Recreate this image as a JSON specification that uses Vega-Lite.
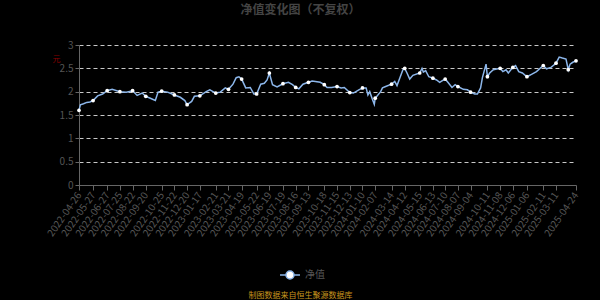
{
  "$schema": "https://vega.github.io/schema/vega-lite/v6.json",
  "autosize": "none",
  "width": 497,
  "height": 140,
  "padding": {"left": 79, "top": 45, "right": 24, "bottom": 115},
  "background": "#000000",
  "config": {
    "font": "Noto Sans CJK SC",
    "view": {"stroke": null},
    "axis": {"labelColor": "#555555", "labelFontSize": 10, "domainColor": "#666666", "tickColor": "#666666"}
  },
  "title": {
    "text": "净值变化图（不复权）",
    "anchor": "middle",
    "frame": "group",
    "dx": -27,
    "offset": 23,
    "color": "#444444",
    "fontSize": 12,
    "fontWeight": "bold"
  },
  "data": {
    "values": [
      {"date": "2022-04-26", "nav": 1.60},
      {"date": "2022-04-29", "nav": 1.72},
      {"date": "2022-05-06", "nav": 1.74},
      {"date": "2022-05-13", "nav": 1.77},
      {"date": "2022-05-20", "nav": 1.78},
      {"date": "2022-05-27", "nav": 1.81},
      {"date": "2022-06-06", "nav": 1.91},
      {"date": "2022-06-17", "nav": 1.95},
      {"date": "2022-06-27", "nav": 2.02},
      {"date": "2022-07-08", "nav": 2.05},
      {"date": "2022-07-25", "nav": 2.00},
      {"date": "2022-08-08", "nav": 1.99},
      {"date": "2022-08-22", "nav": 2.02},
      {"date": "2022-09-01", "nav": 1.92},
      {"date": "2022-09-12", "nav": 1.97},
      {"date": "2022-09-20", "nav": 1.90},
      {"date": "2022-09-30", "nav": 1.86},
      {"date": "2022-10-11", "nav": 1.81},
      {"date": "2022-10-17", "nav": 1.99},
      {"date": "2022-10-25", "nav": 2.01},
      {"date": "2022-11-07", "nav": 1.99},
      {"date": "2022-11-22", "nav": 1.93},
      {"date": "2022-12-05", "nav": 1.88},
      {"date": "2022-12-15", "nav": 1.81},
      {"date": "2022-12-20", "nav": 1.72},
      {"date": "2022-12-30", "nav": 1.79},
      {"date": "2023-01-05", "nav": 1.90},
      {"date": "2023-01-17", "nav": 1.91},
      {"date": "2023-01-31", "nav": 2.00},
      {"date": "2023-02-08", "nav": 2.04},
      {"date": "2023-02-21", "nav": 1.97},
      {"date": "2023-03-03", "nav": 1.99},
      {"date": "2023-03-14", "nav": 2.08},
      {"date": "2023-03-21", "nav": 2.05},
      {"date": "2023-03-31", "nav": 2.16},
      {"date": "2023-04-07", "nav": 2.30},
      {"date": "2023-04-13", "nav": 2.32},
      {"date": "2023-04-19", "nav": 2.27},
      {"date": "2023-04-28", "nav": 2.08},
      {"date": "2023-05-08", "nav": 2.09},
      {"date": "2023-05-16", "nav": 1.95},
      {"date": "2023-05-22", "nav": 1.95},
      {"date": "2023-05-31", "nav": 2.16},
      {"date": "2023-06-08", "nav": 2.18},
      {"date": "2023-06-14", "nav": 2.25},
      {"date": "2023-06-19", "nav": 2.40},
      {"date": "2023-06-26", "nav": 2.15},
      {"date": "2023-07-06", "nav": 2.10},
      {"date": "2023-07-19", "nav": 2.17},
      {"date": "2023-07-31", "nav": 2.20},
      {"date": "2023-08-09", "nav": 2.15},
      {"date": "2023-08-16", "nav": 2.09},
      {"date": "2023-08-23", "nav": 2.06},
      {"date": "2023-09-01", "nav": 2.16},
      {"date": "2023-09-13", "nav": 2.20},
      {"date": "2023-09-21", "nav": 2.23},
      {"date": "2023-10-09", "nav": 2.20},
      {"date": "2023-10-18", "nav": 2.15},
      {"date": "2023-10-24", "nav": 2.09},
      {"date": "2023-11-03", "nav": 2.09},
      {"date": "2023-11-15", "nav": 2.11},
      {"date": "2023-11-24", "nav": 2.08},
      {"date": "2023-12-01", "nav": 2.09},
      {"date": "2023-12-13", "nav": 1.98},
      {"date": "2023-12-21", "nav": 1.97},
      {"date": "2024-01-02", "nav": 2.04},
      {"date": "2024-01-10", "nav": 2.08},
      {"date": "2024-01-18", "nav": 2.08},
      {"date": "2024-01-22", "nav": 1.93},
      {"date": "2024-01-26", "nav": 2.00},
      {"date": "2024-01-31", "nav": 1.86},
      {"date": "2024-02-05", "nav": 1.73},
      {"date": "2024-02-07", "nav": 1.86},
      {"date": "2024-02-19", "nav": 2.00},
      {"date": "2024-02-23", "nav": 2.08},
      {"date": "2024-03-01", "nav": 2.11},
      {"date": "2024-03-14", "nav": 2.16},
      {"date": "2024-03-21", "nav": 2.22},
      {"date": "2024-03-26", "nav": 2.13},
      {"date": "2024-04-01", "nav": 2.29},
      {"date": "2024-04-08", "nav": 2.47},
      {"date": "2024-04-12", "nav": 2.50},
      {"date": "2024-04-17", "nav": 2.40},
      {"date": "2024-04-23", "nav": 2.27},
      {"date": "2024-04-30", "nav": 2.35},
      {"date": "2024-05-15", "nav": 2.40},
      {"date": "2024-05-20", "nav": 2.50},
      {"date": "2024-05-23", "nav": 2.42},
      {"date": "2024-05-28", "nav": 2.45},
      {"date": "2024-06-04", "nav": 2.32},
      {"date": "2024-06-13", "nav": 2.29},
      {"date": "2024-06-21", "nav": 2.25},
      {"date": "2024-06-28", "nav": 2.20},
      {"date": "2024-07-03", "nav": 2.23},
      {"date": "2024-07-10", "nav": 2.27},
      {"date": "2024-07-16", "nav": 2.20},
      {"date": "2024-07-25", "nav": 2.09},
      {"date": "2024-08-01", "nav": 2.15},
      {"date": "2024-08-07", "nav": 2.11},
      {"date": "2024-08-19", "nav": 2.05},
      {"date": "2024-08-28", "nav": 2.04},
      {"date": "2024-09-04", "nav": 1.99},
      {"date": "2024-09-13", "nav": 1.95},
      {"date": "2024-09-19", "nav": 1.95},
      {"date": "2024-09-26", "nav": 2.08},
      {"date": "2024-09-30", "nav": 2.30},
      {"date": "2024-10-08", "nav": 2.59},
      {"date": "2024-10-11", "nav": 2.32},
      {"date": "2024-10-16", "nav": 2.40},
      {"date": "2024-10-24", "nav": 2.47},
      {"date": "2024-11-08", "nav": 2.50},
      {"date": "2024-11-14", "nav": 2.43},
      {"date": "2024-11-21", "nav": 2.47},
      {"date": "2024-11-26", "nav": 2.40},
      {"date": "2024-12-06", "nav": 2.52},
      {"date": "2024-12-12", "nav": 2.56},
      {"date": "2024-12-19", "nav": 2.43},
      {"date": "2024-12-27", "nav": 2.40},
      {"date": "2025-01-06", "nav": 2.32},
      {"date": "2025-01-16", "nav": 2.37},
      {"date": "2025-01-27", "nav": 2.43},
      {"date": "2025-02-11", "nav": 2.56},
      {"date": "2025-02-18", "nav": 2.49},
      {"date": "2025-02-28", "nav": 2.52},
      {"date": "2025-03-11", "nav": 2.61},
      {"date": "2025-03-18", "nav": 2.74},
      {"date": "2025-03-25", "nav": 2.72},
      {"date": "2025-04-02", "nav": 2.70},
      {"date": "2025-04-07", "nav": 2.47},
      {"date": "2025-04-11", "nav": 2.59},
      {"date": "2025-04-17", "nav": 2.63},
      {"date": "2025-04-24", "nav": 2.66}
    ]
  },
  "encoding": {
    "x": {
      "field": "date",
      "type": "temporal",
      "timeUnit": "utcyearmonthdate",
      "scale": {"nice": false},
      "axis": {
        "title": "制图数据来自恒生聚源数据库",
        "titleColor": "#c8961e",
        "titleFontSize": 8,
        "titleFontWeight": "normal",
        "titleX": 221,
        "titleY": 110,
        "titleBaseline": "middle",
        "titleAnchor": null,
        "titleAlign": "center",
        "grid": false,
        "labelAngle": -55,
        "labelOverlap": false,
        "labelPadding": 3,
        "tickSize": 5,
        "format": "%Y-%m-%d",
        "values": [
          {"year": 2022, "month": 4, "date": 26, "utc": true},
          {"year": 2022, "month": 5, "date": 27, "utc": true},
          {"year": 2022, "month": 6, "date": 27, "utc": true},
          {"year": 2022, "month": 7, "date": 25, "utc": true},
          {"year": 2022, "month": 8, "date": 22, "utc": true},
          {"year": 2022, "month": 9, "date": 20, "utc": true},
          {"year": 2022, "month": 10, "date": 25, "utc": true},
          {"year": 2022, "month": 11, "date": 22, "utc": true},
          {"year": 2022, "month": 12, "date": 20, "utc": true},
          {"year": 2023, "month": 1, "date": 17, "utc": true},
          {"year": 2023, "month": 2, "date": 21, "utc": true},
          {"year": 2023, "month": 3, "date": 21, "utc": true},
          {"year": 2023, "month": 4, "date": 19, "utc": true},
          {"year": 2023, "month": 5, "date": 22, "utc": true},
          {"year": 2023, "month": 6, "date": 19, "utc": true},
          {"year": 2023, "month": 7, "date": 19, "utc": true},
          {"year": 2023, "month": 8, "date": 16, "utc": true},
          {"year": 2023, "month": 9, "date": 13, "utc": true},
          {"year": 2023, "month": 10, "date": 18, "utc": true},
          {"year": 2023, "month": 11, "date": 15, "utc": true},
          {"year": 2023, "month": 12, "date": 13, "utc": true},
          {"year": 2024, "month": 1, "date": 10, "utc": true},
          {"year": 2024, "month": 2, "date": 7, "utc": true},
          {"year": 2024, "month": 3, "date": 14, "utc": true},
          {"year": 2024, "month": 4, "date": 12, "utc": true},
          {"year": 2024, "month": 5, "date": 15, "utc": true},
          {"year": 2024, "month": 6, "date": 13, "utc": true},
          {"year": 2024, "month": 7, "date": 10, "utc": true},
          {"year": 2024, "month": 8, "date": 7, "utc": true},
          {"year": 2024, "month": 9, "date": 4, "utc": true},
          {"year": 2024, "month": 10, "date": 11, "utc": true},
          {"year": 2024, "month": 11, "date": 8, "utc": true},
          {"year": 2024, "month": 12, "date": 6, "utc": true},
          {"year": 2025, "month": 1, "date": 6, "utc": true},
          {"year": 2025, "month": 2, "date": 11, "utc": true},
          {"year": 2025, "month": 3, "date": 11, "utc": true},
          {"year": 2025, "month": 4, "date": 24, "utc": true}
        ]
      }
    },
    "y": {
      "field": "nav",
      "type": "quantitative",
      "scale": {"domain": [0, 3], "nice": false},
      "axis": {
        "title": "元",
        "titleColor": "#8b0000",
        "titleFontSize": 8,
        "titleFontWeight": "normal",
        "titleAngle": 0,
        "titleX": -23,
        "titleY": 18,
        "titleAlign": "center",
        "titleAnchor": null,
        "values": [0, 0.5, 1, 1.5, 2, 2.5, 3],
        "format": "~g",
        "tickSize": 4,
        "labelPadding": 2,
        "grid": true,
        "gridColor": "#c8c8c8",
        "gridDash": [4, 3],
        "gridWidth": 1
      }
    }
  },
  "layer": [
    {
      "mark": {"type": "line", "strokeWidth": 1.5, "interpolate": "linear"},
      "encoding": {
        "color": {
          "datum": "净值",
          "scale": {"range": ["#8cb6ea"]},
          "legend": {
            "title": null,
            "orient": "none",
            "legendX": 204,
            "legendY": 223,
            "padding": 0,
            "symbolType": "M-1.6,0H-0.64M0.64,0H1.6M0.64,0A0.64,0.64,0,1,1,-0.64,0A0.64,0.64,0,1,1,0.64,0",
            "symbolSize": 156,
            "symbolFillColor": "#ffffff",
            "symbolStrokeColor": "#8cb6ea",
            "symbolStrokeWidth": 1.5,
            "labelOffset": 8,
            "labelColor": "#555555",
            "labelFontSize": 10
          }
        }
      }
    },
    {
      "transform": [
        {"filter": "indexof(['2022-04-26','2022-05-27','2022-06-27','2022-07-25','2022-08-22','2022-09-20','2022-10-25','2022-11-22','2022-12-20','2023-01-17','2023-02-21','2023-03-21','2023-04-19','2023-05-22','2023-06-19','2023-07-19','2023-08-16','2023-09-13','2023-10-18','2023-11-15','2023-12-13','2024-01-10','2024-02-07','2024-03-14','2024-04-12','2024-05-15','2024-06-13','2024-07-10','2024-08-07','2024-09-04','2024-10-11','2024-11-08','2024-12-06','2025-01-06','2025-02-11','2025-03-11','2025-04-07','2025-04-24'], utcFormat(datum.date, '%Y-%m-%d')) >= 0"}
      ],
      "mark": {"type": "point", "filled": true, "color": "#ffffff", "size": 14, "opacity": 1}
    }
  ]
}
